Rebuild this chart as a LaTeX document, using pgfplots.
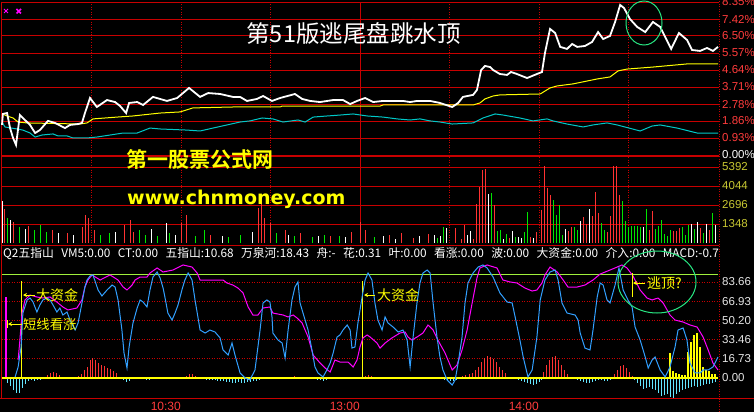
\documentclass[border=0pt]{standalone}
\usepackage{pgfplots}
\pgfplotsset{compat=1.18}
\usetikzlibrary{arrows.meta}
\usepackage{fontspec}
\setmainfont{Liberation Sans}
\newfontfamily\cjk{Noto Sans CJK SC}[BoldFont={Noto Sans CJK SC Bold}]
\newfontfamily\dvs{DejaVu Sans}
\definecolor{gridred}{RGB}{200,0,0}
\definecolor{lblred}{RGB}{255,60,60}
\definecolor{volc}{RGB}{200,200,50}
\definecolor{cyanl}{RGB}{0,200,200}
\definecolor{bluel}{RGB}{50,160,255}
\definecolor{mag}{RGB}{255,0,255}
\definecolor{barred}{RGB}{255,50,50}
\definecolor{vgreen}{RGB}{0,230,0}
\definecolor{cbar}{RGB}{100,230,255}
\definecolor{lime}{RGB}{160,240,60}
\definecolor{circ}{RGB}{40,230,130}
\definecolor{yel}{RGB}{255,255,0}
\definecolor{lbl}{RGB}{230,230,230}
\newcommand{\fs}[1]{\fontsize{#1bp}{#1bp}\selectfont}
\newcommand{\gap}{\hspace{7.4bp}}
\pgfplotsset{panel/.style={anchor=south west, scale only axis, width=716bp,
  xmin=0, xmax=240, axis line style={draw=none}, tick style={draw=none},
  major tick length=0pt, xtick=\empty, yticklabel pos=right, clip=false,
  yticklabel style={anchor=west, inner sep=0pt, xshift=4bp}}}
\begin{document}
\begin{tikzpicture}[x=1bp,y=1bp]
\useasboundingbox (0,0) rectangle (754,412);
\fill[black] (0,0) rectangle (754,412);
\clip (0,0) rectangle (754,412);
% grid (decoration)
\foreach \yy in {410,393,376.1,359.1,342,325,307.9,291.1,274,245,226,207,188}
  \draw[gridred, line width=0.8bp] (1.5,\yy) -- (719,\yy);
\draw[gridred, line width=2bp] (1.5,256.5) -- (719,256.5);
\draw[gridred, line width=0.8bp] (1.5,167) -- (719,167);
\foreach \xx in {91.5,181,270.5,449.5,539,628.5}
  \draw[gridred, line width=0.8bp, dash pattern=on 1bp off 1.5bp] (\xx,410) -- (\xx,169);
\draw[gridred, line width=0.8bp] (360,410) -- (360,169);
\foreach \yy in {130,110.8,91.6,72.4,53.2}
  \draw[gridred, line width=0.8bp, dash pattern=on 1bp off 1.5bp] (1.5,\yy) -- (719,\yy);
\draw[gridred, line width=1bp] (1.5,410) -- (1.5,13.5);
\draw[gridred, line width=1bp, dash pattern=on 1bp off 1.5bp] (719,0) -- (719,412);
\draw[gridred, line width=1bp] (0,13.5) -- (754,13.5);

% ---------- price panel ----------
\begin{axis}[panel, at={(2bp,257bp)}, height=153bp, ymin=0, ymax=8.35,
  ytick={0,0.93,1.86,2.78,3.71,4.64,5.57,6.50,7.42,8.35},
  yticklabels={\textcolor{white}{0.00\%},0.93\%,1.86\%,2.78\%,3.71\%,4.64\%,5.57\%,6.50\%,7.42\%,8.35\%},
  yticklabel style={font=\fs{11.5}, text=lblred}]
\addplot[cyanl, line width=1bp] coordinates {(0,1.80)(1.0,1.53)(5.0,1.42)(7.0,1.36)(9.4,1.20)(11.1,0.98)(13.4,1.09)(17.1,1.15)(18.8,1.04)(21.8,1.04)(23.8,0.93)(28.5,0.93)(31.8,0.98)(36.2,1.09)(40.6,1.20)(45.3,1.20)(49.6,1.47)(53.0,1.42)(62.0,1.36)(66.4,1.31)(70.7,1.47)(75.4,1.64)(79.8,1.80)(83.1,1.86)(87.2,2.02)(90.8,1.97)(94.2,1.80)(99.2,1.91)(101.6,1.80)(104.3,2.07)(109.0,2.13)(113.3,2.18)(117.7,2.24)(122.4,2.13)(127.7,2.07)(132.4,1.97)(136.8,1.91)(140.1,1.97)(143.5,1.86)(146.8,1.80)(150.9,1.69)(157.9,1.75)(161.2,2.02)(165.3,2.24)(168.0,2.18)(173.6,2.02)(178.0,1.86)(182.7,1.97)(184.7,1.86)(189.4,1.69)(194.8,1.53)(198.1,1.64)(202.8,1.75)(206.2,1.64)(213.9,1.31)(217.9,1.58)(220.6,1.64)(226.3,1.47)(233.0,1.20)(240,1.20)};
\addplot[yel, line width=1bp] coordinates {(0,2.24)(1.7,2.13)(3.7,2.02)(5.4,1.80)(8.4,1.75)(26.1,1.69)(28.5,1.75)(30.5,1.97)(38.6,2.07)(43.9,2.13)(53.0,2.29)(59.7,2.35)(64.0,2.57)(77.4,2.62)(93.2,2.62)(93.9,2.67)(126.7,2.67)(127.7,2.73)(157.9,2.73)(160.2,2.84)(161.9,3.06)(164.6,3.22)(166.9,3.28)(180.4,3.33)(183.7,3.66)(186.1,3.77)(191.4,3.88)(199.5,4.15)(203.8,4.26)(206.5,4.59)(209.5,4.69)(218.2,4.80)(229.6,4.97)(240,4.97)};
\addplot[white, line width=1.8bp] coordinates {(0,1.64)(0.3,2.24)(1.7,2.29)(2.7,1.47)(3.7,0.93)(4.7,0.55)(6.0,2.18)(7.0,2.02)(9.4,1.64)(11.1,1.20)(12.7,1.36)(15.4,1.86)(17.8,1.75)(21.1,1.47)(22.8,1.64)(25.5,1.69)(26.8,1.75)(27.8,2.29)(29.5,3.11)(31.8,2.62)(35.2,3.00)(37.9,2.89)(39.6,2.67)(41.6,2.29)(42.6,2.84)(45.3,2.89)(47.3,2.73)(50.6,3.17)(55.3,2.95)(58.7,3.11)(62.7,3.66)(66.4,3.17)(69.1,3.38)(73.1,3.33)(77.4,3.17)(79.8,3.17)(82.1,2.95)(85.5,3.06)(87.5,3.22)(90.5,2.95)(93.2,3.11)(98.2,3.33)(100.6,3.06)(103.3,2.95)(106.6,2.89)(111.0,3.00)(114.3,3.00)(116.7,2.78)(119.0,2.95)(121.7,3.11)(124.4,2.89)(127.7,2.95)(134.4,2.95)(136.8,2.89)(139.1,2.95)(143.5,2.95)(146.8,2.84)(150.9,2.62)(152.9,2.84)(154.5,3.17)(157.9,3.28)(159.2,3.55)(160.6,4.64)(161.9,4.86)(163.6,4.80)(164.6,4.64)(166.9,4.42)(169.3,4.37)(170.6,4.53)(172.6,4.42)(176.0,4.20)(179.3,4.42)(181.0,4.53)(182.0,5.57)(183.7,6.88)(185.4,6.66)(187.1,5.90)(189.4,5.79)(191.1,6.06)(192.8,5.90)(195.4,5.95)(197.8,6.17)(199.8,6.71)(201.5,6.33)(203.8,6.50)(205.5,7.26)(207.2,8.19)(208.5,8.02)(210.5,7.42)(212.9,6.99)(215.6,6.71)(218.2,7.26)(220.6,6.99)(222.3,6.44)(224.3,5.79)(226.9,6.66)(229.6,6.28)(231.3,5.73)(234.0,5.68)(236.3,5.84)(238.3,5.68)(240.0,5.90)};
\end{axis}

% ---------- volume panel ----------
\begin{axis}[panel, at={(2bp,169bp)}, height=88bp, ymin=0, ymax=6244,
  ytick={1348,2696,4044,5392}, yticklabels={1348,2696,4044,5392},
  yticklabel style={font=\fs{11.5}, text=volc}]
\addplot[ycomb, no marks, barred, line width=1bp] coordinates {(1,2400)(4,1500)(9,1200)(17,900)(22,700)(27,1100)(28,2000)(29,1800)(31,900)(41,1300)(43,1600)(44,800)(60,1400)(62,2000)(70,600)(86,2500)(87,3200)(88,1800)(90,1400)(95,900)(100,700)(110,500)(117,800)(120,1500)(122,900)(130,600)(134,700)(138,355)(143,640)(152,1065)(154,280)(155,1280)(158,280)(159,2770)(160,3980)(161,5180)(162,5250)(165,2700)(170,355)(177,425)(179,780)(181,2340)(182,5470)(183,3900)(184,3400)(190,850)(191,1140)(195,1850)(196,1350)(198,1920)(199,3620)(200,2130)(203,780)(204,1920)(205,5470)(206,5470)(207,3400)(217,920)(218,2270)(225,850)(226,850)(227,1065)(234,1065)(237,920)};
\addplot[ycomb, no marks, vgreen, line width=1bp] coordinates {(2,1800)(6,1100)(11,900)(13,1300)(15,800)(33,600)(36,700)(46,900)(48,600)(52,500)(56,700)(65,500)(68,900)(76,400)(80,600)(92,700)(98,500)(104,400)(108,600)(113,500)(125,400)(146,355)(148,1140)(164,3550)(166,850)(167,920)(169,640)(172,425)(175,780)(176,2200)(185,3050)(186,1990)(187,2700)(188,570)(192,1140)(193,920)(201,1420)(202,920)(208,2980)(209,1560)(210,1140)(211,1210)(212,1210)(213,1210)(214,1140)(216,2410)(219,990)(220,1210)(221,1630)(222,640)(223,500)(224,920)(228,1140)(229,570)(230,1280)(232,990)(235,710)(238,2130)};
\addplot[ycomb, no marks, white, line width=1bp] coordinates {(0,3000)(3,1600)(8,1000)(19,700)(24,600)(38,800)(50,1000)(55,1400)(58,600)(74,500)(84,800)(96,600)(106,500)(115,400)(128,500)(132,300)(140,500)(145,570)(147,500)(149,1065)(156,570)(157,850)(163,3480)(168,280)(171,850)(173,425)(174,355)(178,355)(189,990)(194,1560)(197,2410)(215,1140)(231,1350)(233,1490)(236,1350)(239,1280)};
\end{axis}

% ---------- indicator panel ----------
\begin{axis}[panel, at={(2bp,14bp)}, height=136bp, ymin=-17.43, ymax=101.09,
  ytick={0,16.73,33.46,50.20,66.93,83.66},
  yticklabels={0.00,16.73,33.46,50.20,66.93,83.66},
  yticklabel style={font=\fs{11.5}, text=lbl},
  xtick={60,120,180}, xticklabels={10:30,13:00,14:00},
  xticklabel style={anchor=north east, inner sep=0pt, font=\fs{12}, text=lblred, yshift=-3.5bp}]
\addplot[lime, line width=1bp] coordinates {(0,90.6)(240,90.6)};
\addplot[ycomb, no marks, barred, line width=1bp] coordinates {(15.4,2.6)(16.4,4.4)(17.4,5.2)(18.4,4.4)(19.4,2.6)(20.4,0.9)(25.5,1.7)(26.5,3.5)(27.5,7.0)(28.5,9.6)(29.5,15.7)(30.5,17.4)(31.5,15.7)(32.5,13.1)(33.5,11.3)(34.5,10.5)(35.5,8.7)(36.5,7.8)(37.5,6.1)(38.5,4.4)(61.7,1.7)(62.7,3.5)(63.7,3.5)(64.7,1.7)(98.2,1.7)(121.7,1.7)(122.7,2.6)(123.7,1.7)(154.5,1.7)(155.5,2.6)(156.6,3.5)(157.6,4.4)(158.6,7.0)(159.6,9.6)(160.6,13.9)(161.6,17.4)(162.6,19.2)(163.6,18.3)(164.6,16.6)(165.6,13.9)(166.6,9.6)(167.6,7.0)(168.6,4.4)(181.4,5.2)(182.4,11.3)(183.4,15.7)(184.4,18.3)(185.4,19.2)(186.4,15.7)(187.4,11.3)(188.4,7.0)(189.4,3.5)(205.2,3.5)(206.2,7.0)(207.2,10.5)(208.2,11.3)(209.2,8.7)(210.2,5.2)(211.2,1.7)};
\addplot[ycomb, no marks, cbar, line width=1bp] coordinates {(2,-4.4)(3,-7.0)(4,-10.5)(5,-13.1)(6,-13.1)(7,-8.7)(8,-5.2)(9,-2.6)(10,-1.7)(11,-2.6)(12,-1.7)(13,-1.7)(40.6,-1.7)(41.6,-3.5)(42.6,-2.6)(48.3,-1.7)(49.3,-1.7)(67.4,-0.9)(68.4,-1.7)(69.4,-1.7)(70.4,-1.7)(71.4,-1.7)(72.4,-2.6)(73.4,-2.6)(74.4,-2.6)(75.4,-3.5)(76.4,-3.5)(77.4,-4.4)(78.4,-4.4)(79.4,-3.5)(80.4,-4.4)(81.4,-4.4)(82.4,-3.5)(83.4,-3.5)(84.4,-2.6)(85.4,-2.6)(86.4,-1.7)(105.9,-1.7)(106.9,-1.7)(107.9,-2.6)(108.9,-1.7)(109.9,-0.9)(148.2,-1.7)(149.2,-2.6)(150.2,-2.6)(151.2,-2.6)(152.2,-1.7)(153.2,-0.9)(173,-1.7)(174,-2.6)(175,-3.5)(176,-4.4)(177,-5.2)(178,-6.1)(179,-5.2)(180,-3.5)(181,-1.7)(193,-1.7)(194,-2.6)(195,-3.5)(196,-4.4)(197,-4.4)(198,-3.5)(199,-2.6)(200,-1.7)(201,-1.7)(202,-2.6)(203,-2.6)(204,-1.7)(212,-1.7)(213,-4.4)(214,-7.0)(215,-9.6)(216,-8.7)(217,-7.8)(218,-9.6)(219,-10.5)(220,-13.1)(221,-15.7)(222,-14.8)(223,-13.9)(224,-16.6)(225,-17.4)(226,-13.9)(227,-12.2)(228,-10.5)(229,-9.6)(230,-8.7)(231,-7.8)(232,-7.0)(233,-7.8)(234,-7.0)(235,-6.1)(236,-5.2)(237,-5.2)(238,-4.4)(239,-3.5)};
\addplot[ycomb, no marks, yel, line width=2bp] coordinates {(224.0,21.8)(225.0,6.1)(226.0,4.4)(227.0,3.5)(228.0,2.6)(229.0,2.6)(230.0,22.7)(231.0,31.4)(232.0,37.5)(233.0,39.2)(234.0,27.0)(235.0,9.6)(236.0,7.0)(237.0,6.1)(238.0,3.5)(239.0,3.5)};
\addplot[ycomb, no marks, mag, line width=2bp] coordinates {(1.2,70.6)};
\addplot[ycomb, no marks, yel, line width=1bp] coordinates {(6.7,84.5)(121.0,84.5)};
\addplot[yel, line width=1.5bp] coordinates {(0,0)(240,0)};
\addplot[mag, line width=1bp] coordinates {(5.4,15.7)(6.0,33.1)(6.7,56.6)(7.7,68.0)(9.4,72.3)(11.7,70.6)(13.7,69.7)(16.1,70.6)(18.4,66.2)(20.4,61.9)(22.1,59.3)(25.1,61.0)(26.8,68.0)(27.8,79.3)(28.8,85.4)(30.2,89.8)(32.9,85.4)(36.2,89.8)(38.9,85.4)(40.6,79.3)(41.9,76.7)(43.6,81.0)(44.6,85.4)(46.3,88.0)(48.6,88.0)(49.6,91.5)(52.0,95.9)(54.0,92.4)(57.3,94.1)(60.7,98.5)(63.7,96.7)(65.4,91.5)(66.4,85.4)(68.7,85.4)(72.1,85.4)(74.1,85.4)(75.4,82.8)(77.4,81.0)(79.1,78.4)(80.8,74.1)(82.5,61.9)(84.1,54.9)(85.8,54.9)(87.5,61.0)(89.8,61.9)(90.8,56.6)(94.2,54.9)(95.9,53.2)(97.6,54.9)(98.9,52.3)(100.6,47.9)(102.6,35.7)(104.3,20.0)(106.6,13.1)(108.3,8.7)(110.0,5.2)(111.6,15.7)(113.3,13.9)(116.0,13.9)(117.7,9.6)(119.0,15.7)(120.0,27.0)(121.0,34.9)(122.4,37.5)(123.4,35.7)(125.7,30.5)(126.7,26.1)(128.4,30.5)(130.7,34.9)(133.4,39.2)(135.1,40.1)(136.1,35.7)(137.4,33.1)(139.1,35.7)(141.1,39.2)(142.8,46.2)(144.5,41.8)(146.1,33.1)(148.5,21.8)(150.9,7.0)(152.5,11.3)(154.2,24.4)(155.9,41.8)(157.6,65.4)(159.2,87.1)(160.2,95.9)(162.6,98.5)(165.9,95.9)(167.9,85.4)(170.3,83.7)(172.6,82.8)(175.3,78.4)(177.7,75.8)(179.3,76.7)(181.0,82.8)(182.0,89.8)(183.7,96.7)(186.1,92.4)(188.1,85.4)(189.7,79.3)(192.8,79.3)(195.4,81.0)(198.1,85.4)(200.5,90.6)(203.8,94.1)(206.2,96.7)(207.8,98.5)(209.5,95.9)(211.5,88.9)(213.9,76.7)(216.2,69.7)(217.9,68.0)(219.9,69.7)(221.6,65.4)(223.9,54.9)(225.6,50.5)(228.3,48.8)(230.6,46.2)(233.0,44.4)(235.0,35.7)(236.7,24.4)(238.3,13.1)(240.0,7.0)};
\addplot[bluel, line width=1bp] coordinates {(4.4,0.9)(5.4,9.6)(6.4,27.0)(7.0,56.6)(8.4,68.0)(9.4,69.7)(10.4,66.2)(11.7,57.5)(12.7,63.6)(13.7,68.0)(15.1,69.7)(16.1,68.0)(17.1,63.6)(18.4,57.5)(19.4,61.0)(20.4,54.9)(21.8,57.5)(22.8,50.5)(24.5,41.8)(25.5,47.9)(26.8,65.4)(27.8,79.3)(28.5,85.4)(29.5,88.9)(30.5,89.8)(32.2,76.7)(33.5,71.5)(35.2,76.7)(36.9,81.0)(37.9,79.3)(38.9,68.0)(40.2,41.8)(40.9,21.8)(41.9,8.7)(42.6,27.0)(43.9,47.9)(45.3,61.0)(46.3,68.0)(47.3,66.2)(48.6,61.9)(49.6,76.7)(50.6,88.0)(52.0,92.4)(53.0,87.2)(54.0,78.4)(54.6,70.6)(55.6,56.6)(57.0,50.5)(58.0,56.6)(59.0,63.6)(60.3,76.7)(61.3,85.4)(62.4,91.5)(63.7,85.4)(64.7,68.0)(66.4,41.8)(68.1,39.2)(69.7,41.8)(71.4,40.1)(73.1,34.9)(74.1,24.4)(75.8,20.0)(77.1,30.5)(78.1,20.0)(79.8,4.4)(81.5,0)(83.1,-1.7)(84.8,7.0)(86.5,41.8)(87.5,65.4)(88.8,68.0)(89.8,66.2)(90.5,53.2)(90.8,39.2)(92.5,33.1)(93.9,30.5)(94.9,17.4)(95.9,41.8)(97.2,68.0)(98.2,79.3)(99.2,83.7)(99.9,65.4)(100.9,56.6)(102.6,41.8)(103.9,24.4)(104.9,9.6)(105.9,4.4)(107.6,0.9)(108.9,7.0)(110.0,13.1)(111.0,21.8)(112.3,35.7)(113.3,37.5)(114.3,41.8)(115.7,46.2)(116.7,41.8)(117.3,26.1)(118.3,27.0)(119.3,47.9)(120.7,70.6)(121.7,85.4)(122.7,91.5)(124.0,85.4)(125.0,65.4)(126.0,50.5)(127.4,41.8)(128.4,53.2)(129.4,47.9)(131.1,44.4)(132.8,40.1)(134.4,41.8)(135.8,33.1)(136.8,9.6)(137.8,35.7)(139.1,65.4)(140.1,82.8)(141.1,91.5)(142.5,94.1)(143.5,91.5)(144.5,65.4)(145.8,35.7)(146.8,18.3)(147.8,7.0)(149.2,-1.7)(150.9,-6.1)(151.9,-1.7)(152.9,13.1)(154.2,35.7)(155.2,65.4)(156.2,82.8)(157.9,91.5)(159.6,96.7)(161.2,98.5)(162.6,95.9)(164.6,88.0)(166.9,74.1)(169.3,66.2)(171.0,65.4)(172.0,53.2)(173.6,33.1)(174.7,18.3)(176.3,0.9)(177.7,7.0)(179.3,35.7)(180.4,68.0)(182.0,85.4)(183.7,92.4)(185.4,94.1)(186.4,85.4)(187.7,65.4)(189.4,56.6)(192.1,54.9)(193.1,50.5)(193.8,39.2)(195.4,26.1)(197.1,24.4)(198.1,41.8)(199.5,70.6)(200.5,82.8)(201.5,81.0)(202.8,68.0)(203.8,65.4)(205.5,81.0)(206.8,95.9)(208.2,76.7)(209.8,68.0)(211.2,61.9)(212.2,44.4)(213.9,33.1)(215.6,18.3)(216.6,8.7)(217.9,15.7)(218.9,18.3)(220.6,7.0)(222.3,0.9)(223.9,9.6)(225.6,27.0)(226.6,41.8)(228.3,43.6)(229.6,33.1)(230.6,13.1)(232.3,4.4)(234.0,4.4)(235.0,7.0)(236.7,7.0)(238.3,9.6)(240.0,18.3)};
\end{axis}

% ---------- texts and annotations ----------
\node[text=white, font=\cjk\fs{23.5}] at (353.5,378.5) {第51版逃尾盘跳水顶};
\node[text=yel, font=\cjk\bfseries\fs{21}] at (199.5,253) {第一股票公式网};
\node[text=yel, font=\dvs\bfseries\fs{19}, anchor=base west, inner sep=0pt] at (127,208) {www.chnmoney.com};
\node[anchor=base west, inner sep=0pt, text=white, font=\cjk\fs{11.8}] at (3,154.5)
  {Q2五指山\gap VM5:0.00\gap CT:0.00\gap 五指山:10.68\gap 万泉河:18.43\gap 舟:-\gap 花:0.31\gap 叶:0.00\gap 看涨:0.00\gap 波:0.00\gap 大资金:0.00\gap 介入:0.00\gap MACD:-0.7};
\draw[mag, line width=1bp] (4,399)--(8,403) (4,403)--(8,399);
\draw[mag, line width=1.5bp] (16.5,398.5)--(21,403) (16.5,403)--(21,398.5);
% annotations
\draw[yel, line width=1bp, {Stealth[length=4bp,width=4bp]}-] (23,117) -- (35,117);
\node[anchor=west, inner sep=0pt, text=yel, font=\cjk\fs{14}] at (36,117) {大资金};
\draw[yel, line width=1bp] (7,92) -- (7,84);
\draw[yel, line width=1bp, {Stealth[length=4bp,width=4bp]}-] (8,88) -- (22,88);
\node[anchor=west, inner sep=0pt, text=yel, font=\cjk\fs{13.3}] at (23,88) {短线看涨};
\draw[yel, line width=1bp, {Stealth[length=4bp,width=4bp]}-] (364,117) -- (375,117);
\node[anchor=west, inner sep=0pt, text=yel, font=\cjk\fs{14}] at (377,117) {大资金};
\draw[yel, line width=1bp] (632,139) -- (632,115);
\draw[yel, line width=1bp, {Stealth[length=4bp,width=4bp]}-] (633,129) -- (645,129);
\node[anchor=west, inner sep=0pt, text=yel, font=\cjk\fs{14}] at (647,129) {逃顶?};
\draw[circ, line width=1bp] (644,389) ellipse [x radius=18bp, y radius=22bp];
\draw[circ, line width=1bp] (657,130) ellipse [x radius=39bp, y radius=31bp];
\end{tikzpicture}
\end{document}
